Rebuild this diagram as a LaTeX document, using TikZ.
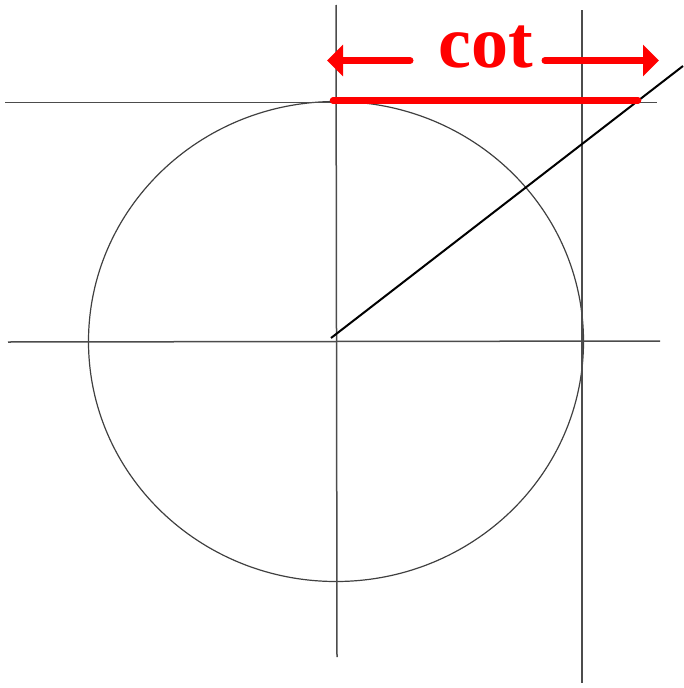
\documentclass[tikz,border=0pt]{standalone}
\usepackage{fontspec}
\setmainfont{Liberation Serif}
\usetikzlibrary{arrows.meta}
\begin{document}
\begin{tikzpicture}[x=1pt,y=-1pt,
  axis/.style={draw=black!70,line width=1.5pt},
  redbar/.style={draw=red,line width=6.5pt,line cap=round},
  redarrow/.style={draw=red,line width=7pt,line cap=round,-{Triangle[length=16pt,width=31pt,line cap=butt]}},
  ray/.style={draw=black,line width=2pt}]
\useasboundingbox (0,0) rectangle (683,688);
\coordinate (O) at (336,341.5);
% circle
\draw[black!75,line width=1.2pt] (O) ellipse [x radius=247.5, y radius=240];
% axes
\coordinate (hl) at (8,342); \coordinate (hr) at (660,341);
\coordinate (vt) at (336,5); \coordinate (vb) at (337,657);
\draw[axis] (hl) -- (hr);
\draw[axis] (vt) -- (vb);
% tangent lines
\coordinate (tl) at (5,102.5); \coordinate (tr) at (657,102.5);
\draw[axis] (tl) -- (tr);
\coordinate (rt) at (582,10); \coordinate (rb) at (582,683);
\draw[axis] (rt) -- (rb);
% ray
\coordinate (r0) at (331,338); \coordinate (r1) at (683,66);
\draw[ray] (r0) -- (r1);
% cot segment
\coordinate (c0) at (333,100.5); \coordinate (c1) at (638,100.5);
\draw[redbar] (c0) -- (c1);
% label and arrows
\node[text=red,font=\bfseries\fontsize{74}{74}\selectfont,inner sep=0pt,anchor=base] (cot) at (486,67) {cot};
\coordinate (al) at (410,60.5); \coordinate (alt) at (327,60.5);
\coordinate (ar) at (545,60.5); \coordinate (art) at (659,60.5);
\draw[redarrow] (al) -- (alt);
\draw[redarrow] (ar) -- (art);
\end{tikzpicture}
\end{document}
